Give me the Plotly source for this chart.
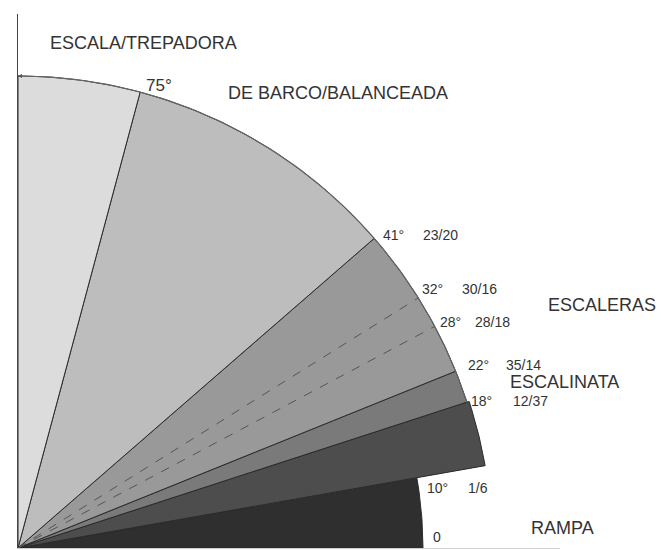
import numpy as np
import plotly.graph_objects as go

# ---- data ----
boundaries = [0, 10, 18, 22, 41, 75, 90]          # sector edges (degrees)
sector_radius = [0.858, 1.005, 1.0, 1.0, 1.0, 1.0]  # relative radius of each sector
sector_colors = ["#2f2f2f", "#4d4d4d", "#7a7a7a", "#999999", "#bdbdbd", "#dcdcdc"]
dashed_angles = [28, 32]

tick_angles = [10, 18, 22, 28, 32, 41]
tick_ratios = ["1/6", "12/37", "35/14", "28/18", "30/16", "23/20"]

category_labels = ["ESCALA/TREPADORA", "DE BARCO/BALANCEADA", "ESCALERAS", "ESCALINATA", "RAMPA"]

fig = go.Figure()

def arc_poly(a0, a1, r):
    t = np.radians(np.linspace(a0, a1, 80))
    xs = np.concatenate([[0], r * np.cos(t), [0]])
    ys = np.concatenate([[0], r * np.sin(t), [0]])
    return xs, ys

for i in range(len(boundaries) - 1):
    xs, ys = arc_poly(boundaries[i], boundaries[i + 1], sector_radius[i])
    fig.add_trace(go.Scatter(x=xs, y=ys, mode="lines", fill="toself",
                             fillcolor=sector_colors[i],
                             line=dict(color="#2a2a2a", width=1),
                             hoverinfo="skip", showlegend=False))

for a in dashed_angles:
    t = np.radians(a)
    fig.add_trace(go.Scatter(x=[0, np.cos(t)], y=[0, np.sin(t)], mode="lines",
                             line=dict(color="#555555", width=1, dash="dash"),
                             hoverinfo="skip", showlegend=False))

# outer arc outline
t = np.radians(np.linspace(18, 90, 200))
fig.add_trace(go.Scatter(x=np.cos(t), y=np.sin(t), mode="lines",
                         line=dict(color="#666666", width=1.2),
                         hoverinfo="skip", showlegend=False))

FAM = "Liberation Sans, Arial, sans-serif"
font_small = dict(family=FAM, size=14, color="#333333")
font_big = dict(family=FAM, size=18, color="#333333")

W, H = 661, 550
R = 472.0  # px per unit
ml, mr, mt, mb = 18, 101, 14, 2
pw, ph = W - ml - mr, H - mt - mb

def paper(xp, yp):
    return (xp - ml) / pw, (H - mb - yp) / ph

def ann(text, pos, font):
    x, y = paper(*pos)
    fig.add_annotation(x=x, y=y, xref="paper", yref="paper", text=text,
                       xanchor="center", yanchor="middle",
                       showarrow=False, font=font)

# angle labels and ratios (positions in page pixels)
deg_pos = {10: (437, 488), 18: (481, 401), 22: (478, 365), 28: (450, 322), 32: (432, 289), 41: (393, 235)}
ratio_pos = {10: (478, 488), 18: (530, 401), 22: (523, 365), 28: (492, 322), 32: (479, 289), 41: (440, 235)}
for a, rt in zip(tick_angles, tick_ratios):
    ann(f"{a}°", deg_pos[a], font_small)
    ann(rt, ratio_pos[a], font_small)

ann("75°", (159, 85), dict(family=FAM, size=17, color="#333333"))
ann("0", (437, 537), font_small)

cat_pos = [(143, 43), (338, 93), (602, 305), (564, 382), (562, 528)]
for lab, p in zip(category_labels, cat_pos):
    ann(lab, p, font_big)

# small arrow head at top of arc
fig.add_annotation(x=0, y=1, ax=0.012, ay=1, xref="x", yref="y", axref="x", ayref="y",
                   text="", showarrow=True, arrowhead=2, arrowsize=0.8, arrowwidth=1,
                   arrowcolor="#555555")

fig.update_xaxes(range=[0, pw / R], showgrid=False, zeroline=False,
                 showticklabels=False, ticks="", showline=True, linecolor="#cfcfcf", linewidth=1)
fig.update_yaxes(range=[0, ph / R], showgrid=False, zeroline=False,
                 showticklabels=False, ticks="", showline=True, linecolor="#444444", linewidth=1.2)
fig.update_layout(width=W, height=H, margin=dict(l=ml, r=mr, t=mt, b=mb),
                  plot_bgcolor="white", paper_bgcolor="white", showlegend=False)

fig.write_html("out.html", config={"displayModeBar": False},
               post_script="document.body.style.margin='0';document.body.style.overflow='hidden';")
